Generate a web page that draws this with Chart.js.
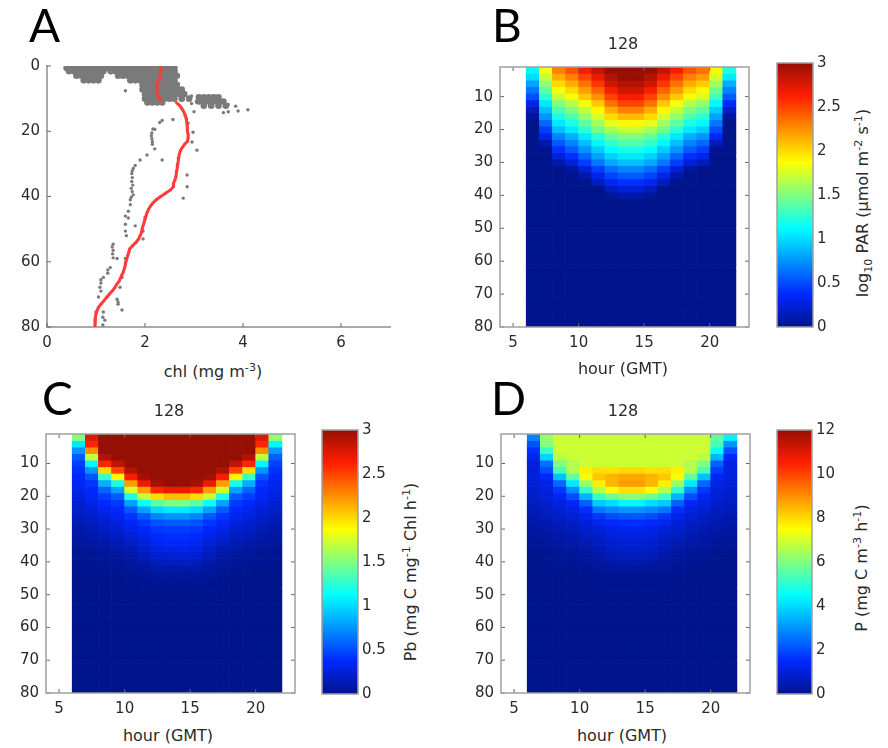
<!DOCTYPE html>
<html>
<head>
<meta charset="utf-8">
<script src="https://cdn.jsdelivr.net/npm/chart.js@4.4.0/dist/chart.umd.min.js"></script>
<style>
body { margin: 0; background: #fff; }
#fig { position: relative; width: 888px; height: 748px; overflow: hidden; font-family: "DejaVu Sans", sans-serif; color: #2a2a2a; }
canvas { position: absolute; }
.t { position: absolute; white-space: nowrap; font-size: 16px; line-height: 1; transform: translate(-50%, -50%); }
.r { transform: translate(-50%, -50%) rotate(-90deg); }
.big { position: absolute; font-family: Lato, sans-serif; font-size: 46px; line-height: 46px; color: #000; }
sup, sub { font-size: 70%; line-height: 0; }
</style>
</head>
<body>
<div id="fig">
  <canvas id="chA" width="405" height="310" style="left:0px;top:50px"></canvas>
  <canvas id="chB" width="319" height="309" style="left:445px;top:51px"></canvas>
  <canvas id="cbB" width="85" height="290" style="left:765px;top:50px"></canvas>
  <canvas id="chC" width="310" height="307" style="left:0px;top:418px"></canvas>
  <canvas id="cbC" width="85" height="290" style="left:310px;top:417px"></canvas>
  <canvas id="chD" width="320" height="307" style="left:445px;top:418px"></canvas>
  <canvas id="cbD" width="85" height="290" style="left:765px;top:417px"></canvas>

  <div class="big" style="left:29px;top:2px">A</div>
  <div class="big" style="left:492px;top:2px">B</div>
  <div class="big" style="left:42px;top:375px">C</div>
  <div class="big" style="left:491px;top:375px">D</div>

  <div class="t" style="left:213px;top:372px">chl (mg m<sup>-3</sup>)</div>
  <div class="t" style="left:623px;top:44px">128</div>
  <div class="t" style="left:169px;top:411px">128</div>
  <div class="t" style="left:623px;top:411px">128</div>
  <div class="t" style="left:623px;top:369px">hour (GMT)</div>
  <div class="t" style="left:168px;top:736px">hour (GMT)</div>
  <div class="t" style="left:622px;top:736px">hour (GMT)</div>
  <div class="t r" style="left:863px;top:203px">log<sub>10</sub> PAR (&mu;mol m<sup>-2</sup> s<sup>-1</sup>)</div>
  <div class="t r" style="left:411px;top:572px">Pb (mg C mg<sup>-1</sup> Chl h<sup>-1</sup>)</div>
  <div class="t r" style="left:862px;top:568px">P (mg C m<sup>-3</sup> h<sup>-1</sup>)</div>
</div>
<script>
"use strict"

// ---- axes ----
const chlTicks = [0, 2, 4, 6];
const depthTicksA = [0, 20, 40, 60, 80];
const hourTicks = [5, 10, 15, 20];
const depthTicks = [10, 20, 30, 40, 50, 60, 70, 80];
const parTicks = [0, 0.5, 1, 1.5, 2, 2.5, 3];
const pbTicks = [0, 0.5, 1, 1.5, 2, 2.5, 3];
const prodTicks = [0, 2, 4, 6, 8, 10, 12];

// ---- panel A: chlorophyll profile ----
// dense gray cloud near the surface, one row per depth
const cloudDepth = [0.6, 1.6, 3.0, 4.4, 5.8, 7.2, 8.6, 10.0, 11.2, 9.6, 10.9, 12.2];
const cloudChl = [
  [0.4,0.5,0.6,0.7,0.8,0.9,1.0,1.1,1.2,1.3,1.4,1.5,1.6,1.7,1.8,1.9,2.0,2.1,2.2,2.3,2.4,2.5,2.6],
  [0.45,0.55,0.65,0.75,0.85,0.95,1.05,1.15,1.3,1.4,1.5,1.6,1.7,1.8,1.9,2.0,2.1,2.2,2.3,2.4,2.5,2.6],
  [0.6,0.7,0.8,0.9,1.0,1.1,1.45,1.55,1.65,1.75,1.85,1.95,2.05,2.15,2.25,2.35,2.45,2.55,2.65],
  [0.75,0.85,0.95,1.05,1.7,1.8,1.9,2.0,2.1,2.2,2.3,2.4,2.5,2.6],
  [1.95,2.05,2.15,2.25,2.35,2.45,2.55,2.65],
  [1.95,2.05,2.15,2.25,2.35,2.45,2.55,2.65,2.75],
  [2.0,2.1,2.2,2.3,2.4,2.5,2.6,2.7,2.8],
  [2.0,2.1,2.2,2.3,2.4,2.5,2.6,2.75,2.9],
  [2.05,2.15,2.25,2.35],
  [3.1,3.2,3.3,3.4,3.5],
  [3.1,3.2,3.3,3.4,3.5,3.6],
  [3.2,3.35,3.5,3.65]
];
// scattered gray samples [chl, depth]
const grayPts = [
  [1.6,7.6],[2.95,9.2],[2.95,11.5],[3.0,14.0],[2.57,16.4],[2.3,17.3],[2.2,19.4],[3.7,11.8],[3.85,12.3],
  [3.7,14.0],[3.9,13.8],[4.1,13.4],[3.6,14.3],[3.05,10.8],
  [2.35,16.7],[2.16,19.3],[2.14,20.5],[2.13,21.4],[2.14,22.3],[2.15,23.2],[2.15,24],[2.2,25.4],[2.04,27.3],
  [1.9,28.8],[2.35,28.8],[1.8,30.5],[1.76,31.4],[1.74,32.2],[1.73,33],[1.74,34.2],[1.73,35.4],[1.75,36.5],
  [1.72,37.5],[1.74,38.5],[1.76,39.5],[1.72,40.2],[1.7,41],[1.7,42.5],[1.66,44.5],[1.6,46],[1.66,46.6],
  [1.6,48.5],[1.8,49],[1.6,50.6],[1.96,50.6],[1.62,52],[1.96,53],[1.35,54.6],[1.33,55.5],[1.35,56.5],
  [1.34,57.6],[1.35,58.8],[1.43,59],[1.6,59],[1.29,61.8],[1.24,62.5],[1.24,63.5],[1.53,64.8],[1.15,64.8],
  [1.1,65.5],[1.1,66.5],[1.08,67.8],[1.49,67.8],[1.1,69],[1.05,70.8],[1.43,71.5],[1.45,72.3],[1.45,73],
  [1.53,74.8],[1.15,75.4],[1.14,77],[1.18,77.9],[1.14,79.4],
  [2.82,15.2],[3.06,11.2],[2.88,17.5],[2.98,20.3],[2.96,23.3],[3.06,25.8],[2.86,33.4],[2.86,37],[2.78,40.5]
];
// red mean profile
const redDepth = [0,1,2,3,4,5,6,7,8,9,10,10.5,10.8,11.2,
  12,13,14,15,16,17,18,19,20,21,22,23,24,25,26,27,28,29,30,31,32,33,34,35,36,37,38,39,40,
  41,42,43,44,45,46,47,48,49,50,51,52,53,54,55,56,57,58,59,60,61,62,63,64,65,66,67,68,69,70,
  71,72,73,74,75,76,77,78,79,80];
const redChl = [2.32,2.33,2.32,2.31,2.3,2.27,2.24,2.24,2.24,2.26,2.3,2.32,null,2.64,
  2.7,2.75,2.79,2.82,2.84,2.85,2.86,2.86,2.87,2.88,2.88,2.87,2.81,2.76,2.72,2.7,2.69,
  2.68,2.67,2.66,2.65,2.64,2.63,2.61,2.58,2.58,2.52,2.42,2.32,2.23,2.16,2.11,2.07,2.04,2.02,2.0,1.98,
  1.96,1.94,1.93,1.9,1.87,1.82,1.75,1.69,1.67,1.65,1.63,1.61,1.6,1.58,1.56,1.53,1.5,1.47,1.42,1.38,
  1.33,1.27,1.21,1.16,1.1,1.05,1.02,1.0,0.99,0.98,0.98,0.98];

// ---- panels B-D: hour x depth grids ----
const hourBins = [6,7,8,9,10,11,12,13,14,15,16,17,18,19,20,21];
const depths = [2,4,6,8,10,12,14,16,18,20,22,24,26,28,30,32,34,36,38,40,
  42,44,46,48,50,52,54,56,58,60,62,64,66,68,70,72,74,76,78,80];

// log10 PAR, one column per hour, top to bottom
const parLog = [
  [1.1,1.0,0.8,0.65,0.5,0.3,0.15,0.05,0,0, 0,0,0,0,0,0,0,0,0,0, 0,0,0,0,0,0,0,0,0,0, 0,0,0,0,0,0,0,0,0,0],
  [1.85,1.7,1.55,1.4,1.25,1.05,0.9,0.75,0.6,0.45, 0.3,0.1,0,0,0,0,0,0,0,0, 0,0,0,0,0,0,0,0,0,0, 0,0,0,0,0,0,0,0,0,0],
  [2.3,2.15,2.0,1.85,1.7,1.5,1.35,1.2,1.05,0.9, 0.7,0.55,0.4,0.25,0.1,0,0,0,0,0, 0,0,0,0,0,0,0,0,0,0, 0,0,0,0,0,0,0,0,0,0],
  [2.45,2.3,2.15,2.0,1.85,1.65,1.5,1.35,1.2,1.05, 0.85,0.7,0.55,0.4,0.25,0.05,0,0,0,0, 0,0,0,0,0,0,0,0,0,0, 0,0,0,0,0,0,0,0,0,0],
  [2.65,2.5,2.35,2.2,2.05,1.85,1.7,1.55,1.4,1.25, 1.05,0.9,0.75,0.6,0.45,0.25,0.1,0,0,0, 0,0,0,0,0,0,0,0,0,0, 0,0,0,0,0,0,0,0,0,0],
  [2.85,2.7,2.55,2.4,2.25,2.05,1.9,1.75,1.6,1.45, 1.25,1.1,0.95,0.8,0.65,0.45,0.3,0.15,0,0, 0,0,0,0,0,0,0,0,0,0, 0,0,0,0,0,0,0,0,0,0],
  [3.0,2.9,2.8,2.65,2.5,2.35,2.15,2.0,1.8,1.6, 1.42,1.27,1.12,0.97,0.82,0.62,0.47,0.32,0.17,0.05, 0,0,0,0,0,0,0,0,0,0, 0,0,0,0,0,0,0,0,0,0],
  [3.1,3.0,2.9,2.8,2.65,2.5,2.3,2.1,1.9,1.7, 1.5,1.35,1.2,1.05,0.9,0.7,0.55,0.4,0.25,0.1, 0,0,0,0,0,0,0,0,0,0, 0,0,0,0,0,0,0,0,0,0],
  [3.1,3.0,2.9,2.8,2.65,2.5,2.3,2.1,1.9,1.7, 1.5,1.35,1.2,1.05,0.9,0.7,0.55,0.4,0.25,0.1, 0,0,0,0,0,0,0,0,0,0, 0,0,0,0,0,0,0,0,0,0],
  [3.0,2.9,2.8,2.65,2.5,2.35,2.15,2.0,1.8,1.6, 1.42,1.27,1.12,0.97,0.82,0.62,0.47,0.32,0.17,0.05, 0,0,0,0,0,0,0,0,0,0, 0,0,0,0,0,0,0,0,0,0],
  [2.85,2.7,2.55,2.4,2.25,2.05,1.9,1.75,1.6,1.45, 1.25,1.1,0.95,0.8,0.65,0.45,0.3,0.15,0,0, 0,0,0,0,0,0,0,0,0,0, 0,0,0,0,0,0,0,0,0,0],
  [2.65,2.5,2.35,2.2,2.05,1.85,1.7,1.55,1.4,1.25, 1.05,0.9,0.75,0.6,0.45,0.25,0.1,0,0,0, 0,0,0,0,0,0,0,0,0,0, 0,0,0,0,0,0,0,0,0,0],
  [2.45,2.3,2.15,2.0,1.85,1.65,1.5,1.35,1.2,1.05, 0.85,0.7,0.55,0.4,0.25,0.05,0,0,0,0, 0,0,0,0,0,0,0,0,0,0, 0,0,0,0,0,0,0,0,0,0],
  [2.35,2.2,2.05,1.9,1.75,1.55,1.4,1.25,1.1,0.95, 0.75,0.6,0.45,0.3,0.15,0,0,0,0,0, 0,0,0,0,0,0,0,0,0,0, 0,0,0,0,0,0,0,0,0,0],
  [1.9,1.75,1.6,1.45,1.3,1.1,0.95,0.8,0.65,0.5, 0.35,0.15,0,0,0,0,0,0,0,0, 0,0,0,0,0,0,0,0,0,0, 0,0,0,0,0,0,0,0,0,0],
  [1.2,1.05,0.85,0.7,0.55,0.35,0.2,0.05,0,0, 0,0,0,0,0,0,0,0,0,0, 0,0,0,0,0,0,0,0,0,0, 0,0,0,0,0,0,0,0,0,0]
];

// Pb (mg C mg-1 Chl h-1)
const pbRate = [
  [1.5,1.05,0.75,0.55,0.45,0.4,0.37,0.34,0.3,0.27, 0.23,0.2,0.16,0.13,0.1,0.07,0.05,0.03,0.02,0.01, 0,0,0,0,0,0,0,0,0,0, 0,0,0,0,0,0,0,0,0,0],
  [2.75,2.6,2.25,1.7,1.1,0.75,0.52,0.42,0.37,0.33, 0.29,0.25,0.21,0.17,0.13,0.1,0.07,0.05,0.03,0.02, 0.01,0,0,0,0,0,0,0,0,0, 0,0,0,0,0,0,0,0,0,0],
  [3,3,3,2.9,2.6,2.0,1.3,0.85,0.58,0.45, 0.38,0.32,0.27,0.22,0.18,0.14,0.1,0.07,0.05,0.03, 0.02,0.01,0,0,0,0,0,0,0,0, 0,0,0,0,0,0,0,0,0,0],
  [3,3,3,3,2.85,2.5,1.9,1.2,0.8,0.55, 0.43,0.37,0.32,0.27,0.22,0.17,0.13,0.09,0.06,0.04, 0.02,0.01,0,0,0,0,0,0,0,0, 0,0,0,0,0,0,0,0,0,0],
  [3,3,3,3,3,2.9,2.65,2.2,1.75,1.2, 0.8,0.55,0.42,0.35,0.3,0.24,0.18,0.13,0.09,0.06, 0.04,0.02,0.01,0,0,0,0,0,0,0, 0,0,0,0,0,0,0,0,0,0],
  [3,3,3,3,3,3,2.95,2.7,2.2,1.7, 1.15,0.8,0.55,0.42,0.36,0.3,0.25,0.2,0.15,0.1, 0.06,0.04,0.02,0.01,0,0,0,0,0,0, 0,0,0,0,0,0,0,0,0,0],
  [3,3,3,3,3,3,3,2.95,2.6,2.0, 1.4,1.0,0.7,0.52,0.43,0.38,0.33,0.28,0.22,0.16, 0.09,0.05,0.03,0.02,0,0,0,0,0,0, 0,0,0,0,0,0,0,0,0,0],
  [3,3,3,3,3,3,3,3,2.7,2.1, 1.5,1.05,0.75,0.55,0.45,0.4,0.35,0.3,0.24,0.18, 0.1,0.05,0.03,0.02,0,0,0,0,0,0, 0,0,0,0,0,0,0,0,0,0],
  [3,3,3,3,3,3,3,3,2.7,2.1, 1.5,1.05,0.75,0.55,0.45,0.4,0.35,0.3,0.24,0.18, 0.1,0.05,0.03,0.02,0,0,0,0,0,0, 0,0,0,0,0,0,0,0,0,0],
  [3,3,3,3,3,3,3,2.95,2.6,2.0, 1.4,1.0,0.7,0.52,0.43,0.38,0.33,0.28,0.22,0.16, 0.09,0.05,0.03,0.02,0,0,0,0,0,0, 0,0,0,0,0,0,0,0,0,0],
  [3,3,3,3,3,3,2.95,2.7,2.2,1.7, 1.15,0.8,0.55,0.42,0.36,0.3,0.25,0.2,0.15,0.1, 0.06,0.04,0.02,0.01,0,0,0,0,0,0, 0,0,0,0,0,0,0,0,0,0],
  [3,3,3,3,3,2.9,2.65,2.2,1.75,1.2, 0.8,0.55,0.42,0.35,0.3,0.24,0.18,0.13,0.09,0.06, 0.04,0.02,0.01,0,0,0,0,0,0,0, 0,0,0,0,0,0,0,0,0,0],
  [3,3,3,3,2.85,2.5,1.9,1.2,0.8,0.55, 0.43,0.37,0.32,0.27,0.22,0.17,0.13,0.09,0.06,0.04, 0.02,0.01,0,0,0,0,0,0,0,0, 0,0,0,0,0,0,0,0,0,0],
  [3,3,3,2.9,2.6,2.0,1.3,0.85,0.58,0.45, 0.38,0.32,0.27,0.22,0.18,0.14,0.1,0.07,0.05,0.03, 0.02,0.01,0,0,0,0,0,0,0,0, 0,0,0,0,0,0,0,0,0,0],
  [2.75,2.6,2.25,1.7,1.1,0.75,0.52,0.42,0.37,0.33, 0.29,0.25,0.21,0.17,0.13,0.1,0.07,0.05,0.03,0.02, 0.01,0,0,0,0,0,0,0,0,0, 0,0,0,0,0,0,0,0,0,0],
  [1.55,1.1,0.78,0.57,0.46,0.41,0.37,0.34,0.3,0.27, 0.23,0.2,0.16,0.13,0.1,0.07,0.05,0.03,0.02,0.01, 0,0,0,0,0,0,0,0,0,0, 0,0,0,0,0,0,0,0,0,0]
];

// P (mg C m-3 h-1)
const prodRate = [
  [2.8,2.1,1.6,1.25,1.05,1.0,1.0,0.95,0.87,0.78, 0.67,0.58,0.46,0.36,0.28,0.19,0.14,0.08,0.05,0.02, 0,0,0,0,0,0,0,0,0,0, 0,0,0,0,0,0,0,0,0,0],
  [6.3,6.0,5.2,3.9,2.5,2.0,1.45,1.2,1.07,0.96, 0.84,0.73,0.6,0.48,0.36,0.27,0.19,0.13,0.08,0.05, 0.02,0,0,0,0,0,0,0,0,0, 0,0,0,0,0,0,0,0,0,0],
  [6.9,6.9,6.9,6.65,6.0,5.3,3.65,2.4,1.7,1.3, 1.1,0.93,0.77,0.62,0.5,0.38,0.27,0.19,0.13,0.07, 0.05,0.02,0,0,0,0,0,0,0,0, 0,0,0,0,0,0,0,0,0,0],
  [6.9,6.9,6.9,6.9,6.55,6.6,5.6,4.2,2.9,2.0, 1.4,1.1,0.91,0.76,0.6,0.46,0.35,0.24,0.16,0.1, 0.05,0.02,0,0,0,0,0,0,0,0, 0,0,0,0,0,0,0,0,0,0],
  [6.9,6.9,6.9,6.9,6.9,7.7,7.4,6.3,5.1,3.5, 2.3,1.6,1.2,0.98,0.83,0.65,0.49,0.34,0.23,0.14, 0.09,0.04,0.02,0,0,0,0,0,0,0, 0,0,0,0,0,0,0,0,0,0],
  [6.9,6.9,6.9,6.9,6.9,7.95,8.25,7.7,6.6,5.2, 3.8,2.6,1.7,1.25,0.99,0.81,0.68,0.53,0.39,0.24, 0.14,0.09,0.04,0.02,0,0,0,0,0,0, 0,0,0,0,0,0,0,0,0,0],
  [6.9,6.9,6.9,6.9,6.9,7.9,8.5,8.5,7.55,5.8, 4.05,2.9,2.0,1.46,1.18,1.03,0.89,0.74,0.57,0.38, 0.2,0.11,0.06,0.04,0,0,0,0,0,0, 0,0,0,0,0,0,0,0,0,0],
  [6.9,6.9,6.9,6.9,6.9,8.0,8.7,8.8,7.9,6.1, 4.4,3.05,2.15,1.55,1.25,1.08,0.95,0.8,0.62,0.43, 0.23,0.11,0.06,0.04,0,0,0,0,0,0, 0,0,0,0,0,0,0,0,0,0],
  [6.9,6.9,6.9,6.9,6.9,8.0,8.7,8.8,7.9,6.1, 4.4,3.05,2.15,1.55,1.25,1.08,0.95,0.8,0.62,0.43, 0.23,0.11,0.06,0.04,0,0,0,0,0,0, 0,0,0,0,0,0,0,0,0,0],
  [6.9,6.9,6.9,6.9,6.9,7.9,8.5,8.5,7.55,5.8, 4.05,2.9,2.0,1.46,1.18,1.03,0.89,0.74,0.57,0.38, 0.2,0.11,0.06,0.04,0,0,0,0,0,0, 0,0,0,0,0,0,0,0,0,0],
  [6.9,6.9,6.9,6.9,6.9,7.95,8.25,7.7,6.6,5.2, 3.8,2.6,1.7,1.25,0.99,0.81,0.68,0.53,0.39,0.24, 0.14,0.09,0.04,0.02,0,0,0,0,0,0, 0,0,0,0,0,0,0,0,0,0],
  [6.9,6.9,6.9,6.9,6.9,7.7,7.4,6.3,5.1,3.5, 2.3,1.6,1.2,0.98,0.83,0.65,0.49,0.34,0.23,0.14, 0.09,0.04,0.02,0,0,0,0,0,0,0, 0,0,0,0,0,0,0,0,0,0],
  [6.9,6.9,6.9,6.9,6.55,6.6,5.6,4.2,2.9,2.0, 1.4,1.1,0.91,0.76,0.6,0.46,0.35,0.24,0.16,0.1, 0.05,0.02,0,0,0,0,0,0,0,0, 0,0,0,0,0,0,0,0,0,0],
  [6.9,6.9,6.9,6.65,6.0,5.3,3.65,2.4,1.7,1.3, 1.1,0.93,0.77,0.62,0.5,0.38,0.27,0.19,0.13,0.07, 0.05,0.02,0,0,0,0,0,0,0,0, 0,0,0,0,0,0,0,0,0,0],
  [5.6,5.3,4.6,3.5,2.3,1.8,1.35,1.15,1.03,0.93, 0.82,0.71,0.58,0.46,0.35,0.26,0.18,0.12,0.08,0.05, 0.02,0,0,0,0,0,0,0,0,0, 0,0,0,0,0,0,0,0,0,0],
  [4.3,3.0,2.1,1.5,1.15,1.1,1.05,0.97,0.87,0.78, 0.67,0.58,0.46,0.36,0.28,0.19,0.14,0.08,0.05,0.02, 0,0,0,0,0,0,0,0,0,0, 0,0,0,0,0,0,0,0,0,0]
];

/*---------------------------------*/

Chart.defaults.font.family = '"DejaVu Sans", sans-serif';
Chart.defaults.font.size = 15;
Chart.defaults.color = '#2a2a2a';
Chart.defaults.animation = false;

// jet colour map
const jetStops = [
  [0, [0, 20, 140]], [0.125, [0, 40, 255]], [0.375, [0, 255, 255]],
  [0.625, [255, 255, 0]], [0.875, [255, 30, 0]], [1, [150, 15, 5]]
];
function jet(t) {
  t = Math.max(0, Math.min(1, t));
  for (let i = 1; i < jetStops.length; i++) {
    const [p1, c1] = jetStops[i];
    const [p0, c0] = jetStops[i - 1];
    if (t <= p1) {
      const f = (t - p0) / (p1 - p0);
      const c = c0.map((v, k) => Math.round(v + (c1[k] - v) * f));
      return 'rgb(' + c.join(',') + ')';
    }
  }
  return 'rgb(150,15,5)';
}

// inward tick marks and box, MATLAB style
const frame = {
  id: 'frame',
  afterDatasetsDraw(chart, args, o) {
    const ctx = chart.ctx;
    const a = chart.chartArea;
    const x = chart.scales.x;
    const y = chart.scales.y;
    ctx.save();
    if (!o.noTicks) {
      ctx.strokeStyle = '#666';
      ctx.lineWidth = 1;
      ctx.beginPath();
      x.ticks.forEach(t => {
        const p = x.getPixelForValue(t.value);
        ctx.moveTo(p, a.bottom); ctx.lineTo(p, a.bottom - 4);
        if (o.box) { ctx.moveTo(p, a.top); ctx.lineTo(p, a.top + 4); }
      });
      y.ticks.forEach(t => {
        const p = y.getPixelForValue(t.value);
        ctx.moveTo(a.left, p); ctx.lineTo(a.left + 4, p);
        if (o.box) { ctx.moveTo(a.right, p); ctx.lineTo(a.right - 4, p); }
      });
      ctx.stroke();
    }
    if (o.box) {
      ctx.strokeStyle = '#a0a0a0';
      ctx.lineWidth = 1.5;
      ctx.strokeRect(a.left, a.top, a.right - a.left, a.bottom - a.top);
    }
    ctx.restore();
  }
};

function fixedTicks(list) {
  return scale => { scale.ticks = list.map(v => ({ value: v })); };
}

/*---------------------------------*/

// panel A
function profileChart() {
  const cloud = [];
  cloudDepth.forEach((d, i) => cloudChl[i].forEach(c => cloud.push({ x: c, y: d })));
  const red = redDepth.map((d, i) => ({ x: redChl[i], y: d }));

  new Chart(document.getElementById('chA'), {
    type: 'scatter',
    data: {
      datasets: [
        { data: red, showLine: true, spanGaps: false, borderColor: '#ff3c3c', borderWidth: 3,
          pointRadius: 1.4, pointBackgroundColor: '#ff3c3c', pointBorderWidth: 0 },
        { data: grayPts.map(p => ({ x: p[0], y: p[1] })), pointRadius: 1.7,
          backgroundColor: '#7a7a7a', borderWidth: 0 },
        { data: cloud, pointRadius: 3.3, backgroundColor: '#7a7a7a', borderWidth: 0 }
      ]
    },
    options: {
      responsive: false,
      layout: { padding: { top: 13, right: 15 } },
      plugins: { legend: { display: false }, tooltip: { enabled: false }, frame: { box: false } },
      scales: {
        x: { type: 'linear', min: 0, max: 7,
          grid: { display: false, drawTicks: false }, border: { display: true, color: '#aaa', width: 2 },
          ticks: { padding: 7, callback: v => v }, afterBuildTicks: fixedTicks(chlTicks),
          afterFit: s => { s.height = 33; } },
        y: { type: 'linear', reverse: true, min: 0, max: 80,
          grid: { display: false, drawTicks: false }, border: { display: true, color: '#aaa', width: 2 },
          ticks: { padding: 7, callback: v => v }, afterBuildTicks: fixedTicks(depthTicksA),
          afterFit: s => { s.width = 47; } }
      }
    },
    plugins: [frame]
  });
}

// panels B-D
function heatChart(id, cols, vmax, yW, xH) {
  const sets = depths.map((d, i) => ({
    data: hourBins.map(h => ({ x: h + 0.5, y: [d - 1, Math.min(d + 1, 80)] })),
    backgroundColor: cols.map(c => jet(c[i] / vmax))
  }));

  new Chart(document.getElementById(id), {
    type: 'bar',
    data: { datasets: sets },
    options: {
      responsive: false,
      layout: { padding: { top: 12, right: 15 } },
      datasets: { bar: { grouped: false, barPercentage: 1, categoryPercentage: 1, borderWidth: 0 } },
      plugins: { legend: { display: false }, tooltip: { enabled: false }, frame: { box: true } },
      scales: {
        x: { type: 'linear', offset: false, min: 4, max: 23,
          grid: { display: false, drawTicks: false, offset: false }, border: { display: false },
          ticks: { padding: 7, callback: v => v }, afterBuildTicks: fixedTicks(hourTicks),
          afterFit: s => { s.height = xH; } },
        y: { type: 'linear', reverse: true, min: 1, max: 80,
          grid: { display: false, drawTicks: false }, border: { display: false },
          ticks: { padding: 7, callback: v => v }, afterBuildTicks: fixedTicks(depthTicks),
          afterFit: s => { s.width = yW; } }
      }
    },
    plugins: [frame]
  });
}

function colorBar(id, vmax, ticks, axW) {
  new Chart(document.getElementById(id), {
    type: 'bar',
    data: {
      labels: [''],
      datasets: [{
        data: [[0, vmax]],
        barPercentage: 1, categoryPercentage: 1, borderWidth: 0,
        backgroundColor: c => {
          const a = c.chart.chartArea;
          if (!a) return null;
          const g = c.chart.ctx.createLinearGradient(0, a.bottom, 0, a.top);
          jetStops.forEach(s => g.addColorStop(s[0], 'rgb(' + s[1].join(',') + ')'));
          return g;
        }
      }]
    },
    options: {
      responsive: false,
      layout: { padding: { left: 12, top: 13, bottom: 12 } },
      plugins: { legend: { display: false }, tooltip: { enabled: false }, frame: { box: true, noTicks: true } },
      scales: {
        x: { display: false },
        y: { position: 'right', min: 0, max: vmax,
          grid: { display: false, drawTicks: false }, border: { display: false },
          ticks: { padding: 4, callback: v => v }, afterBuildTicks: fixedTicks(ticks),
          afterFit: s => { s.width = axW; } }
      }
    },
    plugins: [frame]
  });
}

profileChart();
heatChart('chB', parLog, 3, 55, 33);
colorBar('cbB', 3, parTicks, 37);
heatChart('chC', pbRate, 3, 46, 32);
colorBar('cbC', 3, pbTicks, 37);
heatChart('chD', prodRate, 12, 56, 32);
colorBar('cbD', 12, prodTicks, 38);
</script>
</body>
</html>
